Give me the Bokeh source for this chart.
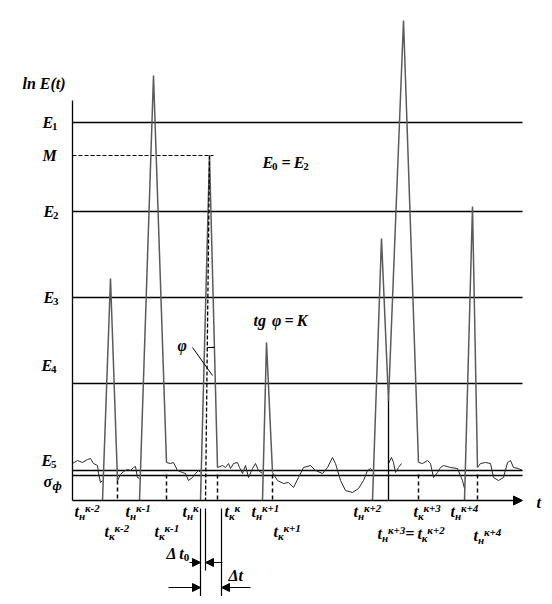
import math
from bokeh.plotting import figure
from bokeh.models import Range1d, Arrow, NormalHead
from bokeh.core.properties import value
from bokeh.embed import file_html
from bokeh.resources import INLINE

# ---------------- data (t: time units, v: ln E units) ----------------
level_names = ["E1", "M", "E2", "E3", "E4", "E5", "sigma"]
level_values = [37.8, 34.5, 28.9, 20.3, 11.7, 3.0, 2.5]

peak_names = ["к-2", "к-1", "к", "к+1", "к+2", "к+3", "к+4"]
peak_start_t = [3.0, 6.7, 12.8, 19.0, 30.0, 31.6, 39.2]
peak_start_v = [0.0, 0.0, 0.0, 0.0, 0.0, 10.0, 0.0]
peak_apex_t = [3.8, 8.1, 13.7, 19.4, 30.9, 33.1, 40.0]
peak_apex_v = [22.2, 42.5, 34.5, 15.8, 26.2, 48.0, 29.4]
peak_end_t = [4.5, 9.4, 14.5, 20.0, 31.6, 34.6, 40.5]
peak_end_v = [2.0, 3.8, 3.3, 2.8, 10.0, 3.8, 3.3]
dashed_end_peaks = [0, 1, 2, 3, 5, 6]

t0_value = 13.3          # projection of the maximum M onto the t axis
dt_marks = [12.8, 13.3, 14.9]

noise_t = [
    [0.0, 0.5, 1.0, 1.5, 1.8, 2.1, 2.5, 2.6, 2.8, 3.0],
    [4.5, 4.8, 5.1, 5.5, 5.8, 6.1, 6.3, 6.5, 6.7],
    [9.4, 9.8, 10.1, 10.5, 11.0, 11.3, 11.6, 12.0, 12.3, 12.6, 12.8],
    [14.5, 15.0, 15.3, 15.6, 15.8, 16.1, 16.5, 16.7, 17.0, 17.3, 17.6, 18.0, 18.3, 18.6, 19.0],
    [20.0, 20.5, 21.1, 21.6, 22.1, 22.6, 23.1, 23.8, 24.3, 25.0, 25.5, 26.0, 26.3, 26.8, 27.3,
     28.0, 28.6, 29.1, 29.5, 29.8, 30.0],
    [31.6, 31.9, 32.1, 32.3, 32.6, 32.9],
    [34.6, 35.0, 35.5, 35.8, 36.1, 36.5, 36.8, 37.1, 37.8, 38.5, 39.0, 39.2],
    [40.5, 40.8, 41.3, 41.8, 42.1, 42.6, 43.1, 43.5, 43.8, 44.1, 44.6, 45.0],
]
noise_v = [
    [3.7, 4.0, 3.8, 4.1, 4.2, 3.7, 3.5, 2.7, 1.8, 2.0],
    [2.0, 2.6, 2.9, 3.1, 3.0, 3.3, 3.4, 2.3, 2.2],
    [3.8, 3.7, 3.8, 3.0, 2.8, 2.7, 2.0, 2.3, 2.7, 3.0, 2.8],
    [3.3, 3.5, 3.3, 3.7, 3.2, 3.7, 3.8, 3.3, 2.7, 3.5, 2.3, 3.2, 3.7, 3.0, 2.7],
    [2.8, 2.0, 1.7, 1.8, 1.3, 2.3, 3.3, 3.5, 3.0, 2.7, 3.3, 4.3, 3.7, 2.0, 1.0,
     0.8, 1.2, 2.0, 3.0, 3.2, 3.0],
    [3.7, 4.3, 3.8, 2.8, 3.3, 3.7],
    [3.8, 3.7, 4.0, 3.7, 2.3, 2.8, 3.3, 3.5, 3.3, 3.2, 2.0, 1.2],
    [3.3, 3.7, 3.8, 3.7, 2.3, 2.0, 2.3, 3.8, 4.0, 3.3, 3.2, 3.0],
]

T_END = 45.0
V_AXIS_TOP = 40.0

# ---------------- layout helpers ----------------
X0, Y0, PX = 72.0, 500.0, 10.0   # reference pixel of origin and px per unit
FIG_W, FIG_H = 544, 596


def px2t(x):
    return (x - X0) / PX


def px2v(y):
    return (Y0 - y) / PX


FONT = "Liberation Serif"
p = figure(width=FIG_W, height=FIG_H, output_backend="svg", toolbar_location=None,
           x_range=Range1d(px2t(0), px2t(FIG_W)), y_range=Range1d(px2v(FIG_H), px2v(0)),
           x_axis_type=None, y_axis_type=None, min_border=0)
p.grid.visible = False
p.outline_line_color = None
p.background_fill_color = "white"
p.border_fill_color = "white"

BLACK = "#000000"
PEAK_COL = "#5a5a5a"
NOISE_COL = "#2a2a2a"

# level lines
for name, lv in zip(level_names, level_values):
    if name == "M":
        k = peak_names.index("к")
        p.line([0, peak_apex_t[k] + 0.4], [lv, lv], line_color=BLACK, line_width=1.0,
               line_dash="4 2")
    else:
        p.line([0, T_END], [lv, lv], line_color=BLACK, line_width=1.3)

# y axis
p.line([0, 0], [0, V_AXIS_TOP], line_color=BLACK, line_width=1.3)
# t axis with arrow
p.add_layout(Arrow(x_start=0, y_start=0, x_end=T_END, y_end=0, line_width=1.3, line_color=BLACK,
                   end=NormalHead(size=9, fill_color=BLACK, line_color=BLACK, line_width=1)))

# noise
for nt, nv in zip(noise_t, noise_v):
    p.line(nt, nv, line_color=NOISE_COL, line_width=1.0)

# peaks
for i in range(len(peak_names)):
    p.line([peak_start_t[i], peak_apex_t[i], peak_end_t[i]],
           [peak_start_v[i], peak_apex_v[i], peak_end_v[i]],
           line_color=PEAK_COL, line_width=1.5)

# dashed end markers t_k
for i in dashed_end_peaks:
    p.line([peak_end_t[i], peak_end_t[i]], [min(peak_end_v[i], 2.6), 0], line_color=BLACK,
           line_width=1.5, line_dash="4 3")

# t_н^{к+3} = t_к^{к+2} marker
k2 = peak_names.index("к+2")
p.line([peak_end_t[k2], peak_end_t[k2]], [peak_end_v[k2], 0], line_color=BLACK, line_width=1.3)

# projection of maximum
k = peak_names.index("к")
p.line([peak_apex_t[k], t0_value], [peak_apex_v[k], 0], line_color=BLACK, line_width=1.3,
       line_dash="4 2")

# angle phi arc
a_dash = math.atan2(0 - peak_apex_v[k], t0_value - peak_apex_t[k])
a_flank = math.atan2(peak_end_v[k] - peak_apex_v[k], peak_end_t[k] - peak_apex_t[k])
p.arc(x=[peak_apex_t[k]], y=[peak_apex_v[k]], radius=19.2, start_angle=a_dash,
      end_angle=a_flank, direction="anticlock", line_color=BLACK, line_width=1.2)
# leader line for phi
p.line([px2t(192), px2t(212)], [px2v(347), px2v(375)], line_color=BLACK, line_width=1.0)

# Δt markers below axis
lows = [px2v(604), px2v(570), px2v(604)]
for tm, lo in zip(dt_marks, lows):
    p.line([tm, tm], [px2v(508), lo], line_color=BLACK, line_width=1.2)


def arrow(x1, x2, y):
    p.add_layout(Arrow(x_start=px2t(x1), y_start=px2v(y), x_end=px2t(x2), y_end=px2v(y),
                       line_width=1.0, line_color=BLACK,
                       end=NormalHead(size=8, fill_color=BLACK, line_color=BLACK, line_width=1)))


x_tn, x_t0, x_dt = [X0 + m * PX for m in dt_marks]
arrow(x_tn - 11, x_tn, 562)
arrow(x_t0 + 17, x_t0, 562)
arrow(x_tn - 32, x_tn, 587)
arrow(x_dt + 29, x_dt, 587)

# ---------------- texts ----------------
W = {'t': 0.278, 'g': 0.5, 'l': 0.278, 'n': 0.556, 'E': 0.6, 'M': 0.889, 'K': 0.667,
     '(': 0.333, ')': 0.333, ' ': 0.25, '=': 0.570, '-': 0.333, '+': 0.570, 'Δ': 0.612,
     'σ': 0.56, 'φ': 0.6, 'ф': 0.65, 'н': 0.55, 'к': 0.5}


def tw(s, size):
    return sum(W.get(c, 0.5) for c in s) * size


def rich(x_px, y_px, parts, main=16, small=11):
    """parts: (text, kind) with kind n=normal, b=subscript, p=superscript, g=gap in px"""
    x = x_px
    for s, kind in parts:
        if kind == 'g':
            x += s
            continue
        if kind == 'n':
            size, dy = main, 0
        elif kind == 'b':
            size, dy = small, 4
        else:
            size, dy = small, -4
        style = "bold" if (kind != 'n' and not any(c.isalpha() for c in s)) else "bold italic"
        p.text(x=[px2t(x)], y=[px2v(y_px + dy)], text=[s], text_font=value(FONT),
               text_font_size=f"{size}px", text_font_style=style,
               text_baseline="middle", text_align="left", text_color=BLACK)
        x += tw(s, size)


rich(22, 83, [("ln", 'n'), (4, 'g'), ("E(t)", 'n')])
level_label_pos = {"E1": (42, 122), "M": (42, 155), "E2": (43, 211), "E3": (43, 297),
                   "E4": (41, 365), "E5": (41, 460)}
for name in level_names:
    if name in level_label_pos:
        x, y = level_label_pos[name]
        if len(name) > 1:
            rich(x, y, [(name[0], 'n'), (name[1:], 'b')])
        else:
            rich(x, y, [(name, 'n')])
rich(43, 481, [("σ", 'n'), ("ф", 'b')], small=13)
rich(262, 162, [("E", 'n'), ("0", 'b'), (4, 'g'), ("=", 'n'), (3, 'g'), ("E", 'n'), ("2", 'b')])
rich(253, 320, [("tg", 'n'), (6, 'g'), ("φ", 'n'), (3, 'g'), ("=", 'n'), (3, 'g'), ("K", 'n')])
rich(177, 345, [("φ", 'n')])
rich(536, 502, [("t", 'n')])
rich(166, 553, [("Δ", 'n'), (3, 'g'), ("t", 'n'), ("0", 'b')])
rich(228, 575, [("Δt", 'n')])

# time labels: (sub, sup, x_px, y_px)
time_labels = [
    ("н", "к-2", 74, 511), ("к", "к-2", 104, 531), ("н", "к-1", 125, 511),
    ("к", "к-1", 154, 531), ("н", "к", 182, 511), ("к", "к", 224, 511),
    ("н", "к+1", 251, 511), ("к", "к+1", 273, 531), ("н", "к+2", 353, 511),
    ("к", "к+3", 413, 511), ("н", "к+4", 450, 511), ("н", "к+4", 473, 535),
]
for sub, sup, x, y in time_labels:
    rich(x, y, [("t", 'n'), (sub, 'b'), (sup, 'p')])
rich(377, 533, [("t", 'n'), ("н", 'b'), ("к+3", 'p'), ("=", 'n'), (3, 'g'), ("t", 'n'),
                ("к", 'b'), ("к+2", 'p')])

open("out.html", "w").write(file_html(p, INLINE))
